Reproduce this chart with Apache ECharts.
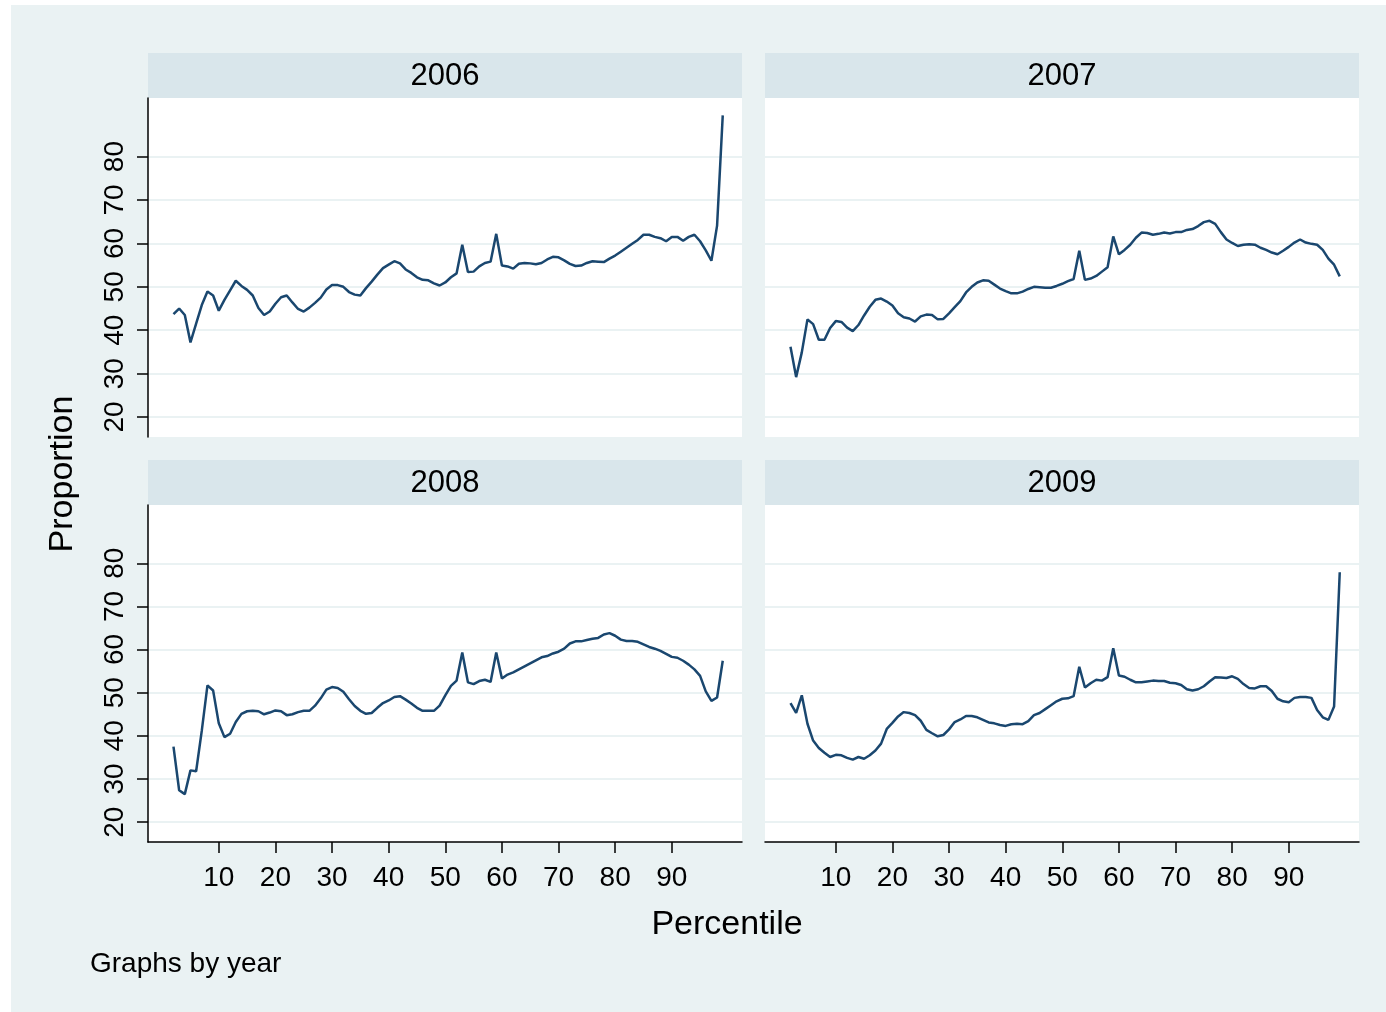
<!DOCTYPE html>
<html>
<head>
<meta charset="utf-8">
<script src="https://cdn.jsdelivr.net/npm/echarts@6/dist/echarts.min.js"></script>
<style>
  html, body { margin: 0; padding: 0; background: #fff; }
  #main { width: 1386px; height: 1012px; }
</style>
</head>
<body>
<div id="main"></div>
<script>
// percentiles on the x axis
var pct = [2,3,4,5,6,7,8,9,10,11,12,13,14,15,16,17,18,19,20,21,22,23,24,25,26,27,28,29,30,31,
  32,33,34,35,36,37,38,39,40,41,42,43,44,45,46,47,48,49,50,51,52,53,54,55,56,57,58,59,60,61,
  62,63,64,65,66,67,68,69,70,71,72,73,74,75,76,77,78,79,80,81,82,83,84,85,86,87,88,89,90,91,
  92,93,94,95,96,97,98,99];

var years = ["2006", "2007", "2008", "2009"];

var prop2006 = [43.7,45.0,43.5,37.2,41.5,45.8,48.9,48.0,44.5,47.0,
  49.2,51.4,50.2,49.3,48.0,45.1,43.5,44.3,46.1,47.6,
  48.0,46.4,44.9,44.3,45.2,46.3,47.5,49.4,50.4,50.4,
  50.0,48.8,48.2,48.0,49.7,51.2,52.8,54.3,55.1,55.9,
  55.4,54.0,53.2,52.2,51.6,51.5,50.8,50.3,51.0,52.2,
  53.1,59.7,53.4,53.5,54.7,55.5,55.8,62.2,54.9,54.7,
  54.2,55.3,55.5,55.4,55.2,55.5,56.3,56.9,56.8,56.1,
  55.3,54.8,54.9,55.5,55.9,55.8,55.7,56.5,57.2,58.1,
  59.0,59.9,60.8,62.0,62.0,61.5,61.2,60.5,61.5,61.5,
  60.6,61.5,62.0,60.5,58.4,56.0,64.1,89.5];

var prop2007 = [36.2,29.2,34.9,42.5,41.4,37.8,37.8,40.5,42.1,41.9,
  40.6,39.8,41.2,43.4,45.4,47.0,47.3,46.6,45.7,43.9,
  43.0,42.7,42.0,43.2,43.6,43.5,42.5,42.6,43.9,45.3,
  46.7,48.7,50.0,51.0,51.5,51.4,50.5,49.6,49.0,48.5,
  48.5,48.9,49.5,50.0,49.9,49.8,49.8,50.2,50.7,51.3,
  51.8,58.3,51.6,51.9,52.5,53.5,54.5,61.6,57.5,58.5,
  59.7,61.3,62.5,62.4,62.0,62.2,62.5,62.3,62.6,62.6,
  63.1,63.3,64.0,64.9,65.2,64.5,62.6,60.9,60.1,59.4,
  59.7,59.8,59.7,59.0,58.5,57.9,57.5,58.3,59.2,60.2,
  60.9,60.2,59.9,59.7,58.5,56.5,55.1,52.4];

var prop2008 = [37.5,27.4,26.5,32.0,31.8,41.2,51.7,50.5,42.9,39.7,
  40.5,43.2,45.1,45.7,45.8,45.7,45.0,45.4,45.9,45.7,
  44.8,45.0,45.5,45.8,45.8,47.0,48.7,50.7,51.3,51.1,
  50.2,48.5,46.9,45.8,45.1,45.3,46.5,47.6,48.2,49.0,
  49.2,48.4,47.5,46.5,45.8,45.8,45.8,47.0,49.4,51.6,
  52.8,59.3,52.4,52.0,52.7,53.0,52.5,59.3,53.3,54.2,
  54.7,55.4,56.1,56.8,57.5,58.2,58.5,59.1,59.5,60.2,
  61.4,61.9,61.9,62.2,62.5,62.7,63.5,63.8,63.2,62.3,
  62.0,62.0,61.8,61.2,60.6,60.2,59.7,59.0,58.3,58.1,
  57.4,56.5,55.4,53.9,50.3,48.1,48.9,57.4];

var prop2009 = [47.6,45.3,49.4,42.8,38.9,37.2,36.1,35.1,35.6,35.5,
  34.9,34.5,35.1,34.7,35.5,36.6,38.2,41.6,43.0,44.5,
  45.5,45.3,44.8,43.5,41.4,40.6,39.9,40.2,41.5,43.2,
  43.8,44.6,44.6,44.3,43.7,43.1,42.9,42.5,42.3,42.7,
  42.8,42.7,43.4,44.8,45.3,46.2,47.1,48.0,48.6,48.7,
  49.2,56.0,51.2,52.2,53.0,52.8,53.6,60.3,54.0,53.7,
  53.0,52.4,52.4,52.6,52.8,52.7,52.7,52.3,52.2,51.8,
  50.8,50.5,50.8,51.5,52.6,53.6,53.5,53.4,53.8,53.2,
  52.0,51.1,51.0,51.5,51.5,50.4,48.6,48.0,47.8,48.8,
  49.0,49.0,48.8,46.0,44.3,43.7,46.8,77.9];

var xTicks = [10, 20, 30, 40, 50, 60, 70, 80, 90];
var yTicks = [20, 30, 40, 50, 60, 70, 80];

var allProps = [prop2006, prop2007, prop2008, prop2009];

var font = "'Liberation Sans', Arial, sans-serif";
var bgColor = "#EAF2F3";
var stripColor = "#D9E6EB";
var lineColor = "#1A476F";

// panel boxes: left, top, width, height
var panels = [
  { left: 148, top: 98, width: 594, height: 339 },
  { left: 765, top: 98, width: 594, height: 339 },
  { left: 148, top: 505, width: 594, height: 337 },
  { left: 765, top: 505, width: 594, height: 337 },
];

var grids = [], xAxes = [], yAxes = [], series = [], graphics = [];

// light graph region behind everything
graphics.push({
  type: "rect",
  shape: { x: 11, y: 5, width: 1375, height: 1007 },
  style: { fill: bgColor },
  z: -10,
});

for (var i = 0; i < 4; i++) {
  var p = panels[i];
  var bottomRow = i >= 2;
  var leftCol = i % 2 === 0;
  grids.push({
    left: p.left, top: p.top, width: p.width, height: p.height,
    show: true, backgroundColor: "#fff", borderWidth: 0,
  });
  xAxes.push({
    type: "value", gridIndex: i, min: -2.5, max: 102.4,
    axisLine: { show: bottomRow, onZero: false, lineStyle: { color: "#000", width: 1.5 } },
    axisTick: { show: bottomRow, customValues: xTicks, length: 11, lineStyle: { color: "#000", width: 1.5 } },
    axisLabel: { show: bottomRow, customValues: xTicks, margin: 22, color: "#000", fontSize: 28, fontFamily: font },
    splitLine: { show: false },
  });
  yAxes.push({
    type: "value", gridIndex: i, min: 15.4, max: 93.5,
    minInterval: 10, maxInterval: 10,
    axisLine: { show: leftCol, onZero: false, lineStyle: { color: "#000", width: 1.5 } },
    axisTick: { show: leftCol, customValues: yTicks, length: 11, lineStyle: { color: "#000", width: 1.5 } },
    axisLabel: { show: leftCol, customValues: yTicks, rotate: 90, margin: 19, color: "#000", fontSize: 28, fontFamily: font },
    splitLine: { show: true, lineStyle: { color: bgColor, width: 2 } },
  });
  series.push({
    type: "line", xAxisIndex: i, yAxisIndex: i,
    data: pct.map(function (x, k) { return [x, allProps[i][k]]; }),
    showSymbol: false, symbol: "none",
    lineStyle: { color: lineColor, width: 2.5 },
    animation: false,
  });
  // strip with the year
  graphics.push({
    type: "rect",
    shape: { x: p.left, y: p.top - 45, width: p.width, height: 45 },
    style: { fill: stripColor },
  });
  graphics.push({
    type: "text",
    x: p.left + p.width / 2, y: p.top - 22,
    style: { text: years[i], fill: "#000", font: "31px " + font, textAlign: "center", textVerticalAlign: "middle" },
  });
}

graphics.push({
  type: "text", x: 727, y: 925,
  style: { text: "Percentile", fill: "#000", font: "34px " + font, textAlign: "center", textVerticalAlign: "middle" },
});
graphics.push({
  type: "text", x: 63, y: 474, rotation: Math.PI / 2,
  style: { text: "Proportion", fill: "#000", font: "34px " + font, textAlign: "center", textVerticalAlign: "middle" },
});
graphics.push({
  type: "text", x: 90, y: 964,
  style: { text: "Graphs by year", fill: "#000", font: "28px " + font, textAlign: "left", textVerticalAlign: "middle" },
});

var myChart = echarts.init(document.getElementById("main"));
var option = {
  backgroundColor: "#fff",
  animation: false,
  grid: grids,
  xAxis: xAxes,
  yAxis: yAxes,
  series: series,
  graphic: graphics,
};
option && myChart.setOption(option);
</script>
</body>
</html>
